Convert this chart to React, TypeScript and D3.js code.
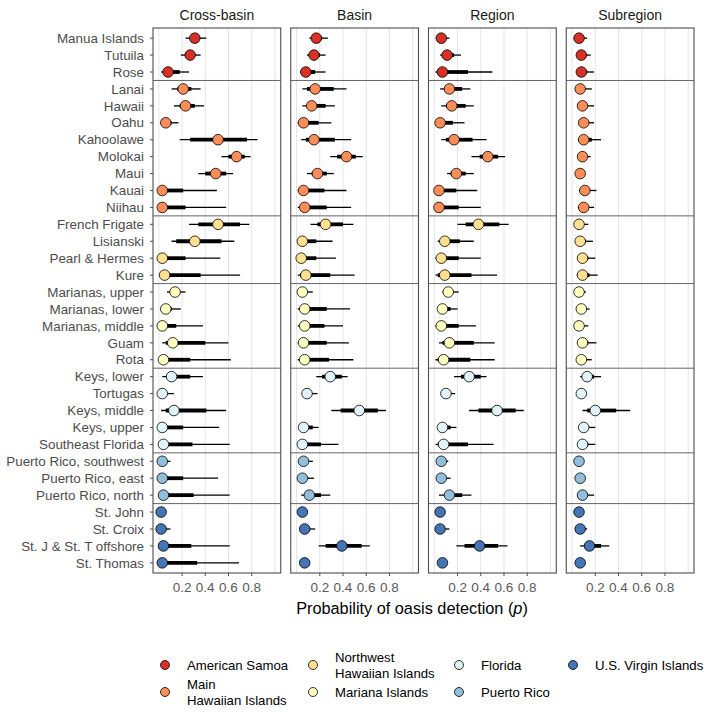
import React from 'react';
import * as d3 from 'd3';

// sites, top to bottom
const sites = [
  'Manua Islands', 'Tutuila', 'Rose',
  'Lanai', 'Hawaii', 'Oahu', 'Kahoolawe', 'Molokai', 'Maui', 'Kauai', 'Niihau',
  'French Frigate', 'Lisianski', 'Pearl & Hermes', 'Kure',
  'Marianas, upper', 'Marianas, lower', 'Marianas, middle', 'Guam', 'Rota',
  'Keys, lower', 'Tortugas', 'Keys, middle', 'Keys, upper', 'Southeast Florida',
  'Puerto Rico, southwest', 'Puerto Rico, east', 'Puerto Rico, north',
  'St. John', 'St. Croix', 'St. J & St. T offshore', 'St. Thomas',
];

// jurisdiction of each site (same order)
const siteRegion = [
  0, 0, 0,
  1, 1, 1, 1, 1, 1, 1, 1,
  2, 2, 2, 2,
  3, 3, 3, 3, 3,
  4, 4, 4, 4, 4,
  5, 5, 5,
  6, 6, 6, 6,
];

const regions = [
  ['American Samoa'],
  ['Main', 'Hawaiian Islands'],
  ['Northwest', 'Hawaiian Islands'],
  ['Mariana Islands'],
  ['Florida'],
  ['Puerto Rico'],
  ['U.S. Virgin Islands'],
];
const regionColors = ['#D73027', '#FC8D59', '#FEE090', '#FFFFBF', '#E0F3F8', '#91BFDB', '#4575B4'];

const panels = ['Cross-basin', 'Basin', 'Region', 'Subregion'];

// [outer low, inner low, median, inner high, outer high]
const crossBasin = [
  [0.23, 0.27, 0.31, 0.35, 0.41], [0.19, 0.23, 0.27, 0.31, 0.36], [0.02, 0.05, 0.08, 0.18, 0.26],
  [0.11, 0.16, 0.21, 0.28, 0.36], [0.13, 0.18, 0.23, 0.31, 0.39], [0.02, 0.04, 0.06, 0.11, 0.17],
  [0.18, 0.27, 0.51, 0.76, 0.85], [0.54, 0.60, 0.67, 0.74, 0.79], [0.34, 0.40, 0.49, 0.58, 0.64],
  [0.01, 0.02, 0.03, 0.21, 0.50], [0.01, 0.02, 0.03, 0.23, 0.58],
  [0.26, 0.34, 0.51, 0.70, 0.78], [0.11, 0.15, 0.31, 0.54, 0.65], [0.01, 0.02, 0.03, 0.23, 0.53],
  [0.01, 0.03, 0.05, 0.36, 0.70],
  [0.07, 0.10, 0.14, 0.18, 0.23], [0.02, 0.04, 0.06, 0.11, 0.19], [0.01, 0.02, 0.03, 0.15, 0.38],
  [0.03, 0.06, 0.12, 0.40, 0.60], [0.01, 0.02, 0.04, 0.27, 0.62],
  [0.03, 0.07, 0.11, 0.27, 0.38], [0.01, 0.02, 0.03, 0.06, 0.13], [0.02, 0.06, 0.13, 0.41, 0.58],
  [0.01, 0.02, 0.03, 0.21, 0.52], [0.01, 0.02, 0.04, 0.29, 0.61],
  [0.01, 0.02, 0.03, 0.05, 0.10], [0.01, 0.02, 0.03, 0.21, 0.51], [0.01, 0.03, 0.04, 0.30, 0.61],
  [0.01, 0.01, 0.02, 0.03, 0.04], [0.01, 0.01, 0.02, 0.05, 0.10], [0.01, 0.02, 0.04, 0.28, 0.61],
  [0.01, 0.02, 0.03, 0.33, 0.69],
];

const basin = [
  [0.11, 0.14, 0.17, 0.22, 0.27], [0.09, 0.12, 0.15, 0.20, 0.25], [0.03, 0.05, 0.08, 0.16, 0.25],
  [0.05, 0.09, 0.16, 0.32, 0.43], [0.05, 0.09, 0.13, 0.25, 0.33], [0.01, 0.03, 0.06, 0.19, 0.30],
  [0.04, 0.08, 0.15, 0.33, 0.47], [0.29, 0.35, 0.43, 0.51, 0.57], [0.09, 0.13, 0.18, 0.26, 0.32],
  [0.01, 0.03, 0.06, 0.24, 0.43], [0.01, 0.03, 0.07, 0.26, 0.47],
  [0.12, 0.18, 0.25, 0.40, 0.49], [0.02, 0.03, 0.05, 0.17, 0.31], [0.01, 0.02, 0.04, 0.17, 0.34],
  [0.01, 0.03, 0.08, 0.29, 0.50],
  [0.02, 0.03, 0.05, 0.09, 0.14], [0.01, 0.03, 0.07, 0.26, 0.46], [0.01, 0.03, 0.07, 0.24, 0.40],
  [0.01, 0.03, 0.06, 0.26, 0.45], [0.01, 0.03, 0.07, 0.28, 0.49],
  [0.17, 0.22, 0.29, 0.39, 0.44], [0.06, 0.07, 0.09, 0.12, 0.18], [0.30, 0.38, 0.54, 0.70, 0.77],
  [0.04, 0.05, 0.06, 0.14, 0.19], [0.02, 0.03, 0.05, 0.21, 0.36],
  [0.04, 0.05, 0.06, 0.09, 0.14], [0.03, 0.04, 0.05, 0.09, 0.15], [0.04, 0.08, 0.11, 0.21, 0.29],
  [0.04, 0.05, 0.05, 0.06, 0.07], [0.05, 0.06, 0.07, 0.11, 0.16], [0.19, 0.25, 0.39, 0.56, 0.63],
  [0.06, 0.06, 0.07, 0.08, 0.09],
];

const region = [
  [0.04, 0.05, 0.06, 0.09, 0.13], [0.05, 0.08, 0.11, 0.17, 0.23], [0.01, 0.03, 0.07, 0.29, 0.50],
  [0.05, 0.09, 0.13, 0.24, 0.31], [0.06, 0.10, 0.15, 0.27, 0.34], [0.02, 0.03, 0.05, 0.16, 0.26],
  [0.06, 0.10, 0.17, 0.33, 0.45], [0.32, 0.39, 0.46, 0.55, 0.61], [0.11, 0.14, 0.19, 0.27, 0.34],
  [0.01, 0.02, 0.04, 0.19, 0.37], [0.01, 0.02, 0.04, 0.21, 0.40],
  [0.20, 0.27, 0.38, 0.56, 0.64], [0.03, 0.05, 0.09, 0.22, 0.34], [0.01, 0.03, 0.06, 0.21, 0.40],
  [0.01, 0.03, 0.09, 0.32, 0.54],
  [0.07, 0.09, 0.12, 0.16, 0.21], [0.03, 0.05, 0.07, 0.14, 0.20], [0.01, 0.03, 0.06, 0.21, 0.36],
  [0.04, 0.07, 0.13, 0.34, 0.52], [0.01, 0.03, 0.08, 0.31, 0.52],
  [0.17, 0.23, 0.30, 0.40, 0.45], [0.07, 0.08, 0.10, 0.13, 0.18], [0.30, 0.38, 0.54, 0.70, 0.77],
  [0.04, 0.05, 0.07, 0.14, 0.19], [0.01, 0.03, 0.08, 0.29, 0.51],
  [0.05, 0.05, 0.06, 0.09, 0.12], [0.04, 0.05, 0.06, 0.10, 0.14], [0.04, 0.09, 0.13, 0.24, 0.32],
  [0.04, 0.05, 0.05, 0.06, 0.07], [0.04, 0.05, 0.05, 0.09, 0.13], [0.19, 0.26, 0.39, 0.55, 0.63],
  [0.06, 0.07, 0.07, 0.08, 0.09],
];

const subregion = [
  [0.05, 0.05, 0.06, 0.09, 0.13], [0.06, 0.07, 0.08, 0.11, 0.16], [0.05, 0.06, 0.08, 0.13, 0.19],
  [0.05, 0.06, 0.07, 0.11, 0.17], [0.05, 0.07, 0.09, 0.13, 0.19], [0.06, 0.08, 0.10, 0.14, 0.19],
  [0.05, 0.07, 0.10, 0.17, 0.25], [0.06, 0.07, 0.09, 0.12, 0.16], [0.05, 0.06, 0.07, 0.08, 0.11],
  [0.06, 0.08, 0.11, 0.15, 0.21], [0.05, 0.07, 0.10, 0.14, 0.19],
  [0.05, 0.05, 0.06, 0.09, 0.14], [0.05, 0.06, 0.07, 0.12, 0.18], [0.05, 0.07, 0.09, 0.14, 0.20],
  [0.04, 0.06, 0.09, 0.15, 0.22],
  [0.05, 0.05, 0.06, 0.08, 0.12], [0.06, 0.07, 0.08, 0.11, 0.15], [0.05, 0.05, 0.06, 0.09, 0.14],
  [0.05, 0.07, 0.09, 0.14, 0.21], [0.06, 0.07, 0.08, 0.12, 0.17],
  [0.07, 0.10, 0.13, 0.19, 0.25], [0.07, 0.08, 0.08, 0.09, 0.10], [0.09, 0.13, 0.20, 0.38, 0.50],
  [0.06, 0.08, 0.10, 0.14, 0.20], [0.06, 0.07, 0.09, 0.14, 0.20],
  [0.05, 0.05, 0.06, 0.07, 0.10], [0.06, 0.06, 0.07, 0.08, 0.11], [0.05, 0.07, 0.09, 0.13, 0.19],
  [0.05, 0.06, 0.06, 0.07, 0.08], [0.06, 0.07, 0.07, 0.09, 0.13], [0.07, 0.11, 0.15, 0.25, 0.32],
  [0.06, 0.07, 0.07, 0.08, 0.09],
];

const panelData = [crossBasin, basin, region, subregion];

const gridValues = [0, 0.2, 0.4, 0.6, 0.8, 1.0];
const tickValues = [0.2, 0.4, 0.6, 0.8];

const W = 709;
const H = 712;
const FONT = '"Liberation Sans", Arial, Helvetica, sans-serif';

const App = () => {
  const top = 28;
  const bottom = 573;
  const gap = 10;
  const left = 153;
  const right = 694;

  const px = d3.scaleBand<string>()
    .domain(panels)
    .range([left, right])
    .paddingInner(gap / ((right - left + gap) / panels.length))
    .paddingOuter(0);
  const bw = px.bandwidth();

  const y = d3.scalePoint<string>().domain(sites).range([top, bottom]).padding(0.6);
  const step = y.step();

  // y positions of the lines between jurisdictions
  const separators: number[] = [];
  for (let i = 1; i < sites.length; i++) {
    if (siteRegion[i] !== siteRegion[i - 1]) {
      separators.push((y(sites[i - 1])! + y(sites[i])!) / 2);
    }
  }

  const legendCols = [165, 313, 459, 573];
  const legendRows = [665, 692];

  return (
    <svg width={W} height={H} style={{ position: 'absolute', left: 0, top: 0, background: '#fff' }}
      fontFamily={FONT}>
      {panels.map((p, pi) => {
        const x0 = px(p)!;
        const x = d3.scaleLinear().domain([-0.05, 1.05]).range([x0, x0 + bw]);
        const rows = panelData[pi];
        return (
          <g key={p}>
            <text x={x0 + bw / 2} y={20} textAnchor="middle" fontSize={14} fill="#1a1a1a">{p}</text>
            {gridValues.map(v => (
              <line key={v} x1={x(v)} x2={x(v)} y1={top} y2={bottom} stroke="#e5e5e5" strokeWidth={1} />
            ))}
            {separators.map((s, i) => (
              <line key={i} x1={x0} x2={x0 + bw} y1={s} y2={s} stroke="#555" strokeWidth={0.9} />
            ))}
            {rows.map((d, i) => {
              const cy = y(sites[i])!;
              return (
                <g key={i}>
                  <line x1={x(d[0])} x2={x(d[4])} y1={cy} y2={cy} stroke="#000" strokeWidth={1.3} />
                  <line x1={x(d[1])} x2={x(d[3])} y1={cy} y2={cy} stroke="#000" strokeWidth={3.8} />
                  <circle cx={x(d[2])} cy={cy} r={5.3} fill={regionColors[siteRegion[i]]}
                    stroke="#000" strokeWidth={0.8} />
                </g>
              );
            })}
            <rect x={x0} y={top} width={bw} height={bottom - top} fill="none" stroke="#4d4d4d" strokeWidth={1.1} />
            {tickValues.map(v => (
              <g key={v}>
                <line x1={x(v)} x2={x(v)} y1={bottom} y2={bottom + 3} stroke="#4d4d4d" strokeWidth={1} />
                <text x={x(v)} y={592} textAnchor="middle" fontSize={13.5} fill="#5a5a5a">{d3.format('.1f')(v)}</text>
              </g>
            ))}
          </g>
        );
      })}

      {sites.map(s => (
        <g key={s}>
          <line x1={left - 3} x2={left} y1={y(s)} y2={y(s)} stroke="#4d4d4d" strokeWidth={1} />
          <text x={left - 9} y={y(s)! + 4.7} textAnchor="end" fontSize={13.4} fill="#4d4d4d">{s}</text>
        </g>
      ))}

      <text x={412} y={614} textAnchor="middle" fontSize={16.3} fill="#000">
        Probability of oasis detection (<tspan fontStyle="italic">p</tspan>)
      </text>

      {regions.map((r, i) => {
        const cx = legendCols[Math.floor(i / 2)];
        const cy = legendRows[i % 2];
        return (
          <g key={i}>
            <circle cx={cx} cy={cy} r={4.5} fill={regionColors[i]} stroke="#000" strokeWidth={0.8} />
            {r.map((line, li) => (
              <text key={li} x={cx + 22} y={cy + 5 + (li - (r.length - 1) / 2) * 16}
                fontSize={13.2} fill="#000">{line}</text>
            ))}
          </g>
        );
      })}
    </svg>
  );
};

export default App;
